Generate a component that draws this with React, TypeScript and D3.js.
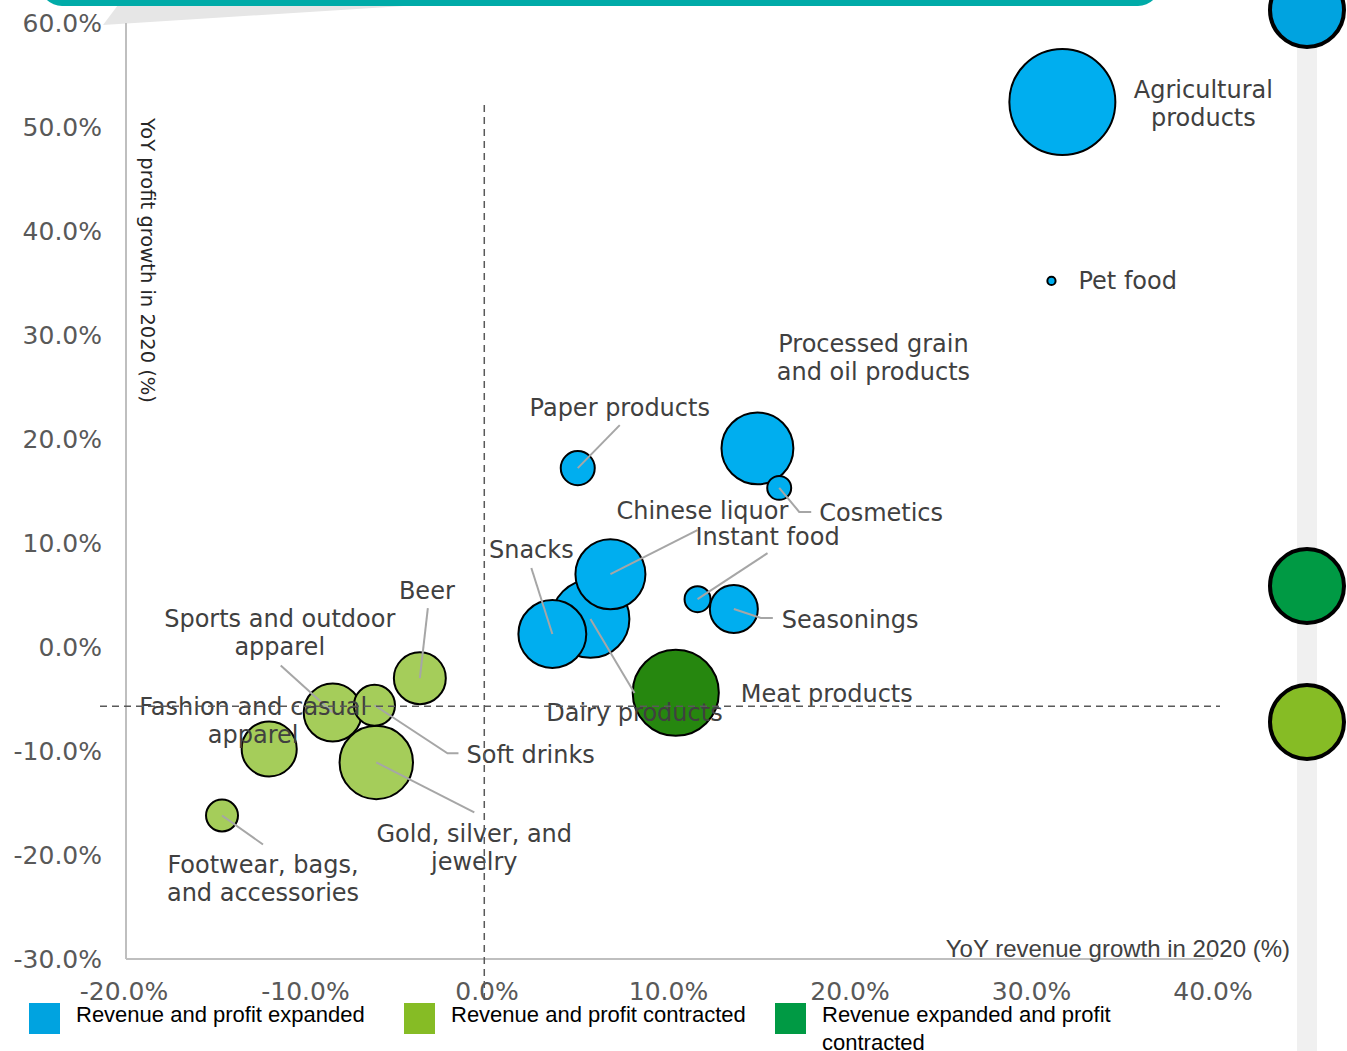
import React from "react";
import * as d3 from "d3";

// ---- Data ----
const categories = [
  "Agricultural products", "Pet food", "Processed grain and oil products", "Cosmetics",
  "Paper products", "Chinese liquor", "Dairy products", "Snacks", "Instant food",
  "Seasonings", "Meat products", "Beer", "Soft drinks", "Sports and outdoor apparel",
  "Fashion and casual apparel", "Gold, silver, and jewelry", "Footwear, bags, and accessories",
];
const revenueGrowth = [31.7, 31.1, 14.9, 16.1, 5.0, 6.8, 5.7, 3.6, 11.6, 13.6, 10.4, -3.7, -6.2, -8.5, -12.0, -6.1, -14.6];
const profitGrowth = [52.4, 35.2, 19.1, 15.3, 17.2, 7.0, 2.7, 1.25, 4.6, 3.65, -4.4, -3.0, -5.6, -6.3, -9.8, -11.1, -16.2];
const bubbleSize = [100, 0.6, 46, 5.1, 10.3, 43.6, 54, 41, 6, 20.5, 66, 24, 15, 30, 27, 48, 9.1];
// 0 = revenue and profit expanded, 1 = contracted, 2 = revenue expanded, profit contracted
const group = [0, 0, 0, 0, 0, 0, 0, 0, 0, 0, 2, 1, 1, 1, 1, 1, 1];

const xTicks = [-20, -10, 0, 10, 20, 30, 40];
const yTicks = [-30, -20, -10, 0, 10, 20, 30, 40, 50, 60];
const legendLabels = [["Revenue and profit expanded"], ["Revenue and profit contracted"], ["Revenue expanded and profit", "contracted"]];
const refRevenue = -0.15;
const refProfit = -5.7;

// label layout: lines, offset from bubble centre, anchor, leader points (offsets)
const labelLayout: { lines: string[]; dx: number; dy: number; anchor: string; leader?: number[][] }[] = [
  { lines: ["Agricultural", "products"], dx: 141, dy: -12, anchor: "middle" },
  { lines: ["Pet food"], dx: 27, dy: 0, anchor: "start" },
  { lines: ["Processed grain", "and oil products"], dx: 116, dy: -105, anchor: "middle" },
  { lines: ["Cosmetics"], dx: 40, dy: 25, anchor: "start", leader: [[20, 24], [32, 24]] },
  { lines: ["Paper products"], dx: 42, dy: -61, anchor: "middle", leader: [[42, -43]] },
  { lines: ["Chinese liquor"], dx: 92, dy: -64, anchor: "middle", leader: [[87, -44]] },
  { lines: ["Dairy products"], dx: 44, dy: 94, anchor: "middle", leader: [[44, 74]] },
  { lines: ["Snacks"], dx: -21, dy: -84, anchor: "middle", leader: [[-21, -66]] },
  { lines: ["Instant food"], dx: 70, dy: -63, anchor: "middle", leader: [[70, -46]] },
  { lines: ["Seasonings"], dx: 48, dy: 11, anchor: "start", leader: [[27, 9], [39, 9]] },
  { lines: ["Meat products"], dx: 65, dy: 1, anchor: "start" },
  { lines: ["Beer"], dx: 7, dy: -88, anchor: "middle", leader: [[8, -70]] },
  { lines: ["Soft drinks"], dx: 92, dy: 49, anchor: "start", leader: [[73, 48], [84, 48]] },
  { lines: ["Sports and outdoor", "apparel"], dx: -53, dy: -94, anchor: "middle", leader: [[-52, -47]] },
  { lines: ["Fashion and casual", "apparel"], dx: -16, dy: -42, anchor: "middle" },
  { lines: ["Gold, silver, and", "jewelry"], dx: 98, dy: 71, anchor: "middle", leader: [[98, 50]] },
  { lines: ["Footwear, bags,", "and accessories"], dx: 41, dy: 49, anchor: "middle", leader: [[41, 29]] },
];

const bubbleColors = ["#00AEEF", "#A5CD5A", "#26870F"];
const legendColors = ["#00A3E0", "#86BC25", "#009A44"];

const W = 1347;
const H = 1051;

export default function App() {
  const x = d3.scaleLinear().domain([-20, 40]).range([124, 1213]);
  const y = d3.scaleLinear().domain([-30, 60]).range([959, 23]);
  const r = d3.scaleSqrt().domain([0, 100]).range([0, 53]);
  const fmt = (v: number) => v.toFixed(1) + "%";
  const labelFont = "'DejaVu Sans', Verdana, sans-serif";
  const narrowFont = "'Liberation Sans Narrow', 'Liberation Sans', Arial, sans-serif";
  const lineH = 28;

  const pts = categories.map((c, i) => ({
    name: c,
    cx: x(revenueGrowth[i]),
    cy: y(profitGrowth[i]),
    rad: r(bubbleSize[i]),
    g: group[i],
    lay: labelLayout[i],
  }));
  const order = d3.range(pts.length).sort((a, b) => pts[b].rad - pts[a].rad);

  return (
    <div style={{ position: "absolute", left: 0, top: 0 }}>
      <svg width={W} height={H} style={{ display: "block", background: "#fff" }}>
        {/* decorative side band and circles */}
        <rect x={1297} y={0} width={20} height={H} fill="#F0F0F0" />
        {[0, 2, 1].map((g, k) => (
          <circle key={k} cx={1307} cy={[10, 586, 722][k]} r={37} fill={legendColors[g]} stroke="#000" strokeWidth={4} />
        ))}
        {/* top teal bar and tail */}
        <polygon points="103,25 118,5 420,5" fill="#E6E6E6" />
        <rect x={40} y={-40} width={1120} height={46} rx={22} fill="#00ABA8" />

        {/* axes */}
        <line x1={126} x2={126} y1={y(60)} y2={y(-30)} stroke="#BFBFBF" strokeWidth={2} />
        <line x1={126} x2={x(40)} y1={y(-30)} y2={y(-30)} stroke="#BFBFBF" strokeWidth={2} />
        {yTicks.map((t) => (
          <text key={t} x={102} y={y(t)} dy="0.35em" textAnchor="end" fontFamily={labelFont} fontSize={25} fill="#595959">
            {fmt(t)}
          </text>
        ))}
        {xTicks.map((t) => (
          <text key={t} x={x(t)} y={991} dy="0.35em" textAnchor="middle" fontFamily={labelFont} fontSize={25} fill="#595959">
            {fmt(t)}
          </text>
        ))}
        <text transform="translate(143,118) rotate(90)" fontFamily={labelFont} fontSize={19.5} fill="#262626" dy="0.1em">
          YoY profit growth in 2020 (%)
        </text>
        <text x={1290} y={949} dy="0.35em" textAnchor="end" fontFamily={narrowFont} fontSize={24} fill="#404040">
          YoY revenue growth in 2020 (%)
        </text>

        {/* bubbles */}
        {order.map((i) => {
          const p = pts[i];
          return <circle key={p.name} cx={p.cx} cy={p.cy} r={p.rad} fill={bubbleColors[p.g]} stroke="#000" strokeWidth={2} />;
        })}

        {/* leader lines */}
        {pts.map((p) =>
          p.lay.leader ? (
            <polyline
              key={"l" + p.name}
              points={[[0, 0], ...p.lay.leader].map(([dx, dy]) => `${p.cx + dx},${p.cy + dy}`).join(" ")}
              fill="none"
              stroke="#A6A6A6"
              strokeWidth={2}
            />
          ) : null
        )}

        {/* labels */}
        {pts.map((p) => (
          <text key={"t" + p.name} fontFamily={labelFont} fontSize={24} fill="#404040" textAnchor={p.lay.anchor}>
            {p.lay.lines.map((ln, j) => (
              <tspan key={j} x={p.cx + p.lay.dx} y={p.cy + p.lay.dy + j * lineH} dy="0.35em">
                {ln}
              </tspan>
            ))}
          </text>
        ))}

        {/* reference dashed lines */}
        <line x1={100} x2={1220} y1={y(refProfit)} y2={y(refProfit)} stroke="#595959" strokeWidth={1.5} strokeDasharray="7,5" />
        <line x1={x(refRevenue)} x2={x(refRevenue)} y1={105} y2={1002} stroke="#595959" strokeWidth={1.5} strokeDasharray="7,5" />

        {/* legend */}
        {legendLabels.map((lines, i) => {
          const lx = [29, 404, 775][i];
          return (
            <g key={i}>
              <rect x={lx} y={1003} width={31} height={31} fill={legendColors[i]} />
              <text fontFamily={narrowFont} fontSize={22} fill="#000">
                {lines.map((ln, j) => (
                  <tspan key={j} x={lx + 47} y={1014 + j * 28} dy="0.35em">
                    {ln}
                  </tspan>
                ))}
              </text>
            </g>
          );
        })}
      </svg>
    </div>
  );
}
